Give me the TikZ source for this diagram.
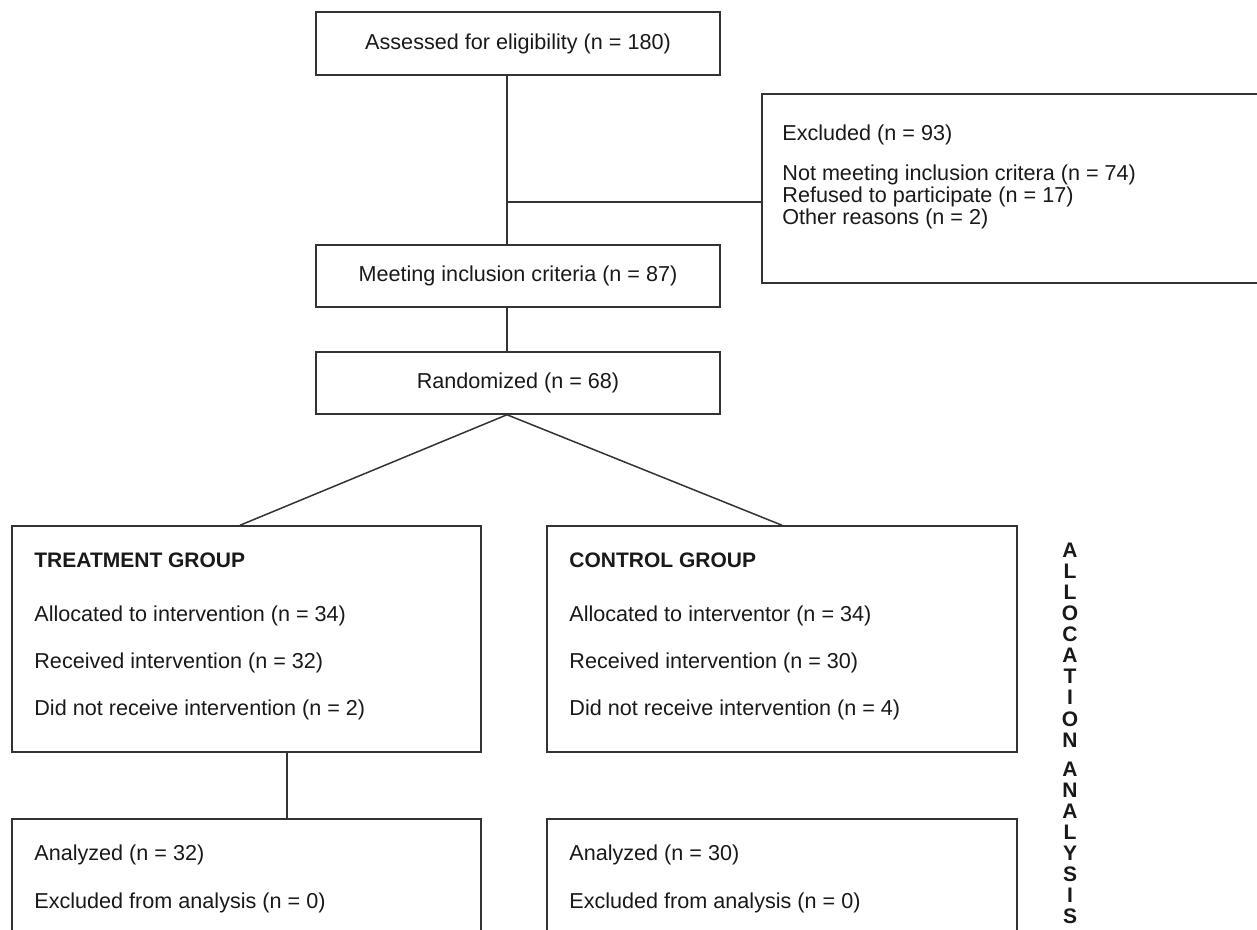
\documentclass[tikz,border=0pt]{standalone}
\usepackage{fontspec}
\setmainfont{Liberation Sans}
\begin{document}
\begin{tikzpicture}[x=0.5pt,y=-0.5pt,
  box/.style={draw=black!80, line width=0.75pt, inner sep=0pt, rectangle},
  txt/.style={font=\fontsize{10.8}{13}\selectfont, text=black!90, inner sep=0pt},
  btxt/.style={font=\fontsize{10.5}{13}\selectfont\bfseries, text=black!90, inner sep=0pt},
  vtxt/.style={font=\fontsize{10.5}{10.55}\selectfont\bfseries, text=black!90, inner sep=0pt, align=center},
  link/.style={draw=black!80, line width=0.75pt}]
\useasboundingbox (0,0) rectangle (1257,930);
\clip (0,0) rectangle (1257,930);

% top column
\node[box, txt, minimum width=202pt, minimum height=31.5pt] (assess) at (518,43.5) {Assessed for eligibility (n = 180)};
\node[box, txt, minimum width=202pt, minimum height=31pt] (meet) at (518,276) {Meeting inclusion criteria (n = 87)};
\node[box, txt, minimum width=202pt, minimum height=31pt] (rand) at (518,383) {Randomized (n = 68)};

% excluded box
\node[box, minimum width=254pt, minimum height=94.5pt] (excl) at (1016,188.5) {};
\node[txt, anchor=base west] (exclT) at (782,141) {Excluded (n = 93)};
\node[txt, anchor=base west] (exclA) at (782,181) {Not meeting inclusion critera (n = 74)};
\node[txt, anchor=base west] (exclB) at (782,203) {Refused to participate (n = 17)};
\node[txt, anchor=base west] (exclC) at (782,225) {Other reasons (n = 2)};

% group boxes
\node[box, minimum width=234.5pt, minimum height=113pt] (treat) at (246.5,639) {};
\node[btxt, anchor=base west] (treatH) at (34,567.5) {TREATMENT GROUP};
\node[txt, anchor=base west] (treatA) at (34,621) {Allocated to intervention (n = 34)};
\node[txt, anchor=base west] (treatB) at (34,668) {Received intervention (n = 32)};
\node[txt, anchor=base west] (treatC) at (34,715) {Did not receive intervention (n = 2)};

\node[box, minimum width=235pt, minimum height=113pt] (ctrl) at (782,639) {};
\node[btxt, anchor=base west] (ctrlH) at (569,567.5) {CONTROL GROUP};
\node[txt, anchor=base west] (ctrlA) at (569,621) {Allocated to interventor (n = 34)};
\node[txt, anchor=base west] (ctrlB) at (569,668) {Received intervention (n = 30)};
\node[txt, anchor=base west] (ctrlC) at (569,715) {Did not receive intervention (n = 4)};

% analysis boxes (cut at the bottom edge)
\node[box, minimum width=234.5pt, minimum height=70.5pt] (ana1) at (246.5,889.5) {};
\node[txt, anchor=base west] (ana1A) at (34,860) {Analyzed (n = 32)};
\node[txt, anchor=base west] (ana1B) at (34,908) {Excluded from analysis (n = 0)};

\node[box, minimum width=235pt, minimum height=70.5pt] (ana2) at (782,889.5) {};
\node[txt, anchor=base west] (ana2A) at (569,860) {Analyzed (n = 30)};
\node[txt, anchor=base west] (ana2B) at (569,908) {Excluded from analysis (n = 0)};

% vertical labels
\node[vtxt] (alloc) at (1070,645) {A\\L\\L\\O\\C\\A\\T\\I\\O\\N};
\node[vtxt] (analys) at (1070,843) {A\\N\\A\\L\\Y\\S\\I\\S};

% connectors
\coordinate (spine) at (507,0);
\coordinate (branch) at (507,202);
\coordinate (tline) at (287,0);
\coordinate (lend) at (240,0);
\draw[link] (assess.south -| spine) -- (meet.north -| spine);
\draw[link] (branch) -- (branch -| excl.west);
\draw[link] (meet.south -| spine) -- (rand.north -| spine);
\draw[link] (rand.south -| spine) -- (treat.north -| lend);
\draw[link] (rand.south -| spine) -- (ctrl.north);
\draw[link] (treat.south -| tline) -- (ana1.north -| tline);
\end{tikzpicture}
\end{document}
